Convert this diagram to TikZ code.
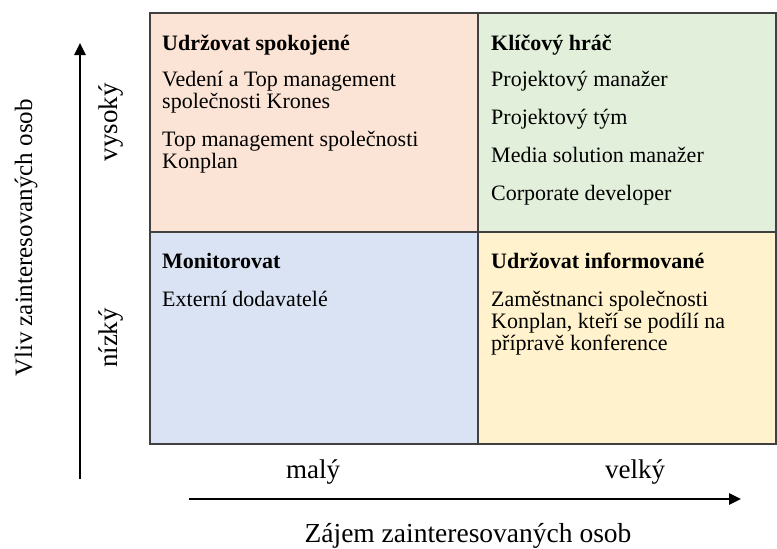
\documentclass[tikz,border=0pt]{standalone}
\usepackage{fontspec}
\setmainfont{Liberation Serif}
\newfontfamily\quadfont{Liberation Serif}
\usetikzlibrary{arrows.meta}
\definecolor{qpink}{HTML}{FBE4D5}
\definecolor{qgreen}{HTML}{E2EFDA}
\definecolor{qblue}{HTML}{DAE3F3}
\definecolor{qyellow}{HTML}{FFF2CC}
\definecolor{qborder}{HTML}{404040}
\tikzset{
  quad/.style={draw=qborder, line width=1.6pt, rectangle, inner sep=0pt},
  body/.style={anchor=base west, inner sep=0pt, font=\quadfont\fontsize{22}{22}\selectfont},
  head/.style={anchor=base west, inner sep=0pt, font=\quadfont\fontsize{22}{22}\selectfont\bfseries},
  axlab/.style={anchor=base, inner sep=0pt, font=\quadfont\fontsize{27}{30}\selectfont},
  axarrow/.style={line width=2.5pt, -{Triangle[length=12pt,width=11pt]}}
}
\begin{document}
\begin{tikzpicture}[x=1pt,y=-1pt]
\useasboundingbox (0,0) rectangle (777,549);
% quadrants
\node[quad, fill=qpink, minimum width=328, minimum height=219] (q1) at (314,122.5) {};
\node[quad, fill=qgreen, minimum width=298, minimum height=219] (q2) at (627,122.5) {};
\node[quad, fill=qblue, minimum width=328, minimum height=212] (q3) at (314,338) {};
\node[quad, fill=qyellow, minimum width=298, minimum height=212] (q4) at (627,338) {};
% top-left
\node[head] (q1h) at (162,50) {Udržovat spokojené};
\node[body] (q1a) at (162,86) {Vedení a Top management};
\node[body] (q1b) at (162,108) {společnosti Krones};
\node[body] (q1c) at (162,146) {Top management společnosti};
\node[body] (q1d) at (162,168) {Konplan};
% top-right
\node[head] (q2h) at (491,50) {Klíčový hráč};
\node[body] (q2a) at (491,86) {Projektový manažer};
\node[body] (q2b) at (491,124) {Projektový tým};
\node[body] (q2c) at (491,162) {Media solution manažer};
\node[body] (q2d) at (491,200) {Corporate developer};
% bottom-left
\node[head] (q3h) at (162,268) {Monitorovat};
\node[body] (q3a) at (162,306) {Externí dodavatelé};
% bottom-right
\node[head] (q4h) at (491,268) {Udržovat informované};
\node[body] (q4a) at (491,306) {Zaměstnanci společnosti};
\node[body] (q4b) at (491,328) {Konplan, kteří se podílí na};
\node[body] (q4c) at (491,350) {přípravě konference};
% axes
\coordinate (vb) at (80,479);
\coordinate (vt) at (80,43);
\draw[axarrow] (vb) -- (vt);
\coordinate (hl) at (189,499);
\coordinate (hr) at (741,499);
\draw[axarrow] (hl) -- (hr);
\node[axlab, rotate=90, font=\quadfont\fontsize{25}{30}\selectfont] (ylab) at (32,238) {Vliv zainteresovaných osob};
\node[axlab, rotate=90] (yhi) at (117,122) {vysoký};
\node[axlab, rotate=90] (ylo) at (117,338) {nízký};
\node[axlab] (xlo) at (313,478) {malý};
\node[axlab] (xhi) at (635,478) {velký};
\node[axlab, font=\quadfont\fontsize{27.5}{30}\selectfont] (xlab) at (468,542) {Zájem zainteresovaných osob};
\end{tikzpicture}
\end{document}
